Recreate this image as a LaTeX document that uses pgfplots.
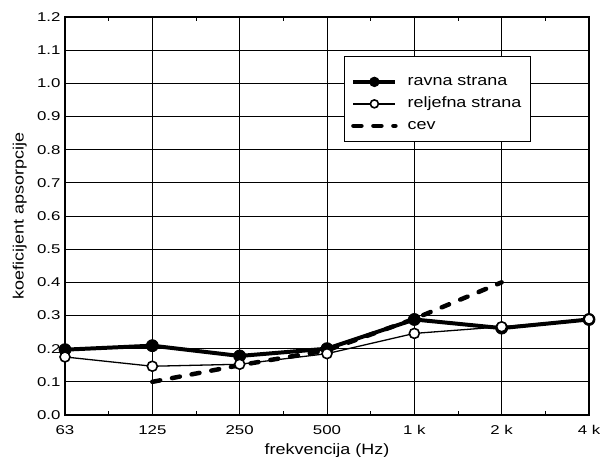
\documentclass[border=0pt]{standalone}
\usepackage{pgfplots}
\pgfplotsset{compat=1.18}
\usepackage{fontspec}
\setmainfont{Liberation Sans}[FakeStretch=1.2]
\newfontfamily\tickfont{Liberation Sans}[FakeStretch=1.32]
\begin{document}
\begin{tikzpicture}
\begin{axis}[
  scale only axis,
  width=524bp, height=398bp,
  xmin=0, xmax=6, ymin=0, ymax=1.2,
  xtick={0,1,2,3,4,5,6},
  xticklabels={63,125,250,500,1 k,2 k,4 k},
  minor xtick={0.5,1.5,2.5,3.5,4.5,5.5},
  ytick={0,0.1,...,1.2},
  /pgf/number format/assume math mode=true,
  ticklabel style={font=\tickfont\fontsize{12.8}{14}\selectfont},
  xticklabel style={yshift=-7bp},
  yticklabel style={xshift=-1bp, /pgf/number format/fixed, /pgf/number format/fixed zerofill, /pgf/number format/precision=1},
  grid=major,
  major grid style={black, line width=0.7pt},
  axis line style={line width=1.7pt},
  tick style={black, line width=0.7pt},
  major tick length=0pt,
  minor tick length=4bp,
  tick align=inside,
  xlabel={frekvencija (Hz)},
  ylabel={koeficijent apsorpcije},
  label style={font=\fontsize{15}{17}\selectfont},
  xlabel style={at={(axis description cs:0.5,-0.0988)}, anchor=base, inner sep=0pt},
  ylabel style={at={(axis description cs:-0.0725,0.5)}, anchor=south, inner sep=0pt},
  legend style={at={(0.532,0.902)}, anchor=north west, draw=black, line width=0.8pt,
    font=\fontsize{15}{17}\selectfont, inner xsep=7bp, inner ysep=8bp, row sep=-3bp,
    column sep=8bp,
    cells={anchor=base west, inner xsep=0pt, inner ysep=0pt, text height=19.5bp, text depth=3.5bp}},
  legend image code/.code={
    \draw[mark repeat=2,mark phase=2, every mark/.append style={scale=0.8}]
      plot coordinates {(0bp,4bp) (21bp,4bp) (42bp,4bp)};},
  clip=false,
]
\addplot[black, line width=4pt, mark=*, mark size=6bp, mark options={solid, line width=0.8pt}]
  coordinates {(0,0.197) (1,0.209) (2,0.178) (3,0.200) (4,0.288) (5,0.262) (6,0.288)};
\addlegendentry{ravna strana}
\addplot[black, line width=1.3pt, mark=*, mark size=5bp, mark options={solid, fill=white, line width=1.6pt}]
  coordinates {(0,0.175) (1,0.147) (2,0.153) (3,0.185) (4,0.246) (5,0.266) (6,0.289)};
\addlegendentry{reljefna strana}
\addplot[black, line width=4.5pt, line cap=round, dash pattern=on 8bp off 12bp]
  coordinates {(1,0.100) (2,0.150) (3,0.195) (4,0.290) (5,0.400)};
\addlegendentry{cev}
\addplot[black, only marks, mark=*, mark size=1.5bp, forget plot] coordinates {(5,0.400)};
\coordinate (bl) at (rel axis cs:0,0);
\coordinate (tr) at (rel axis cs:1,1);
\end{axis}
\pgfresetboundingbox
\path[use as bounding box] ([shift={(-65bp,-42bp)}]bl) rectangle ([shift={(11bp,17bp)}]tr);
\end{tikzpicture}
\end{document}
